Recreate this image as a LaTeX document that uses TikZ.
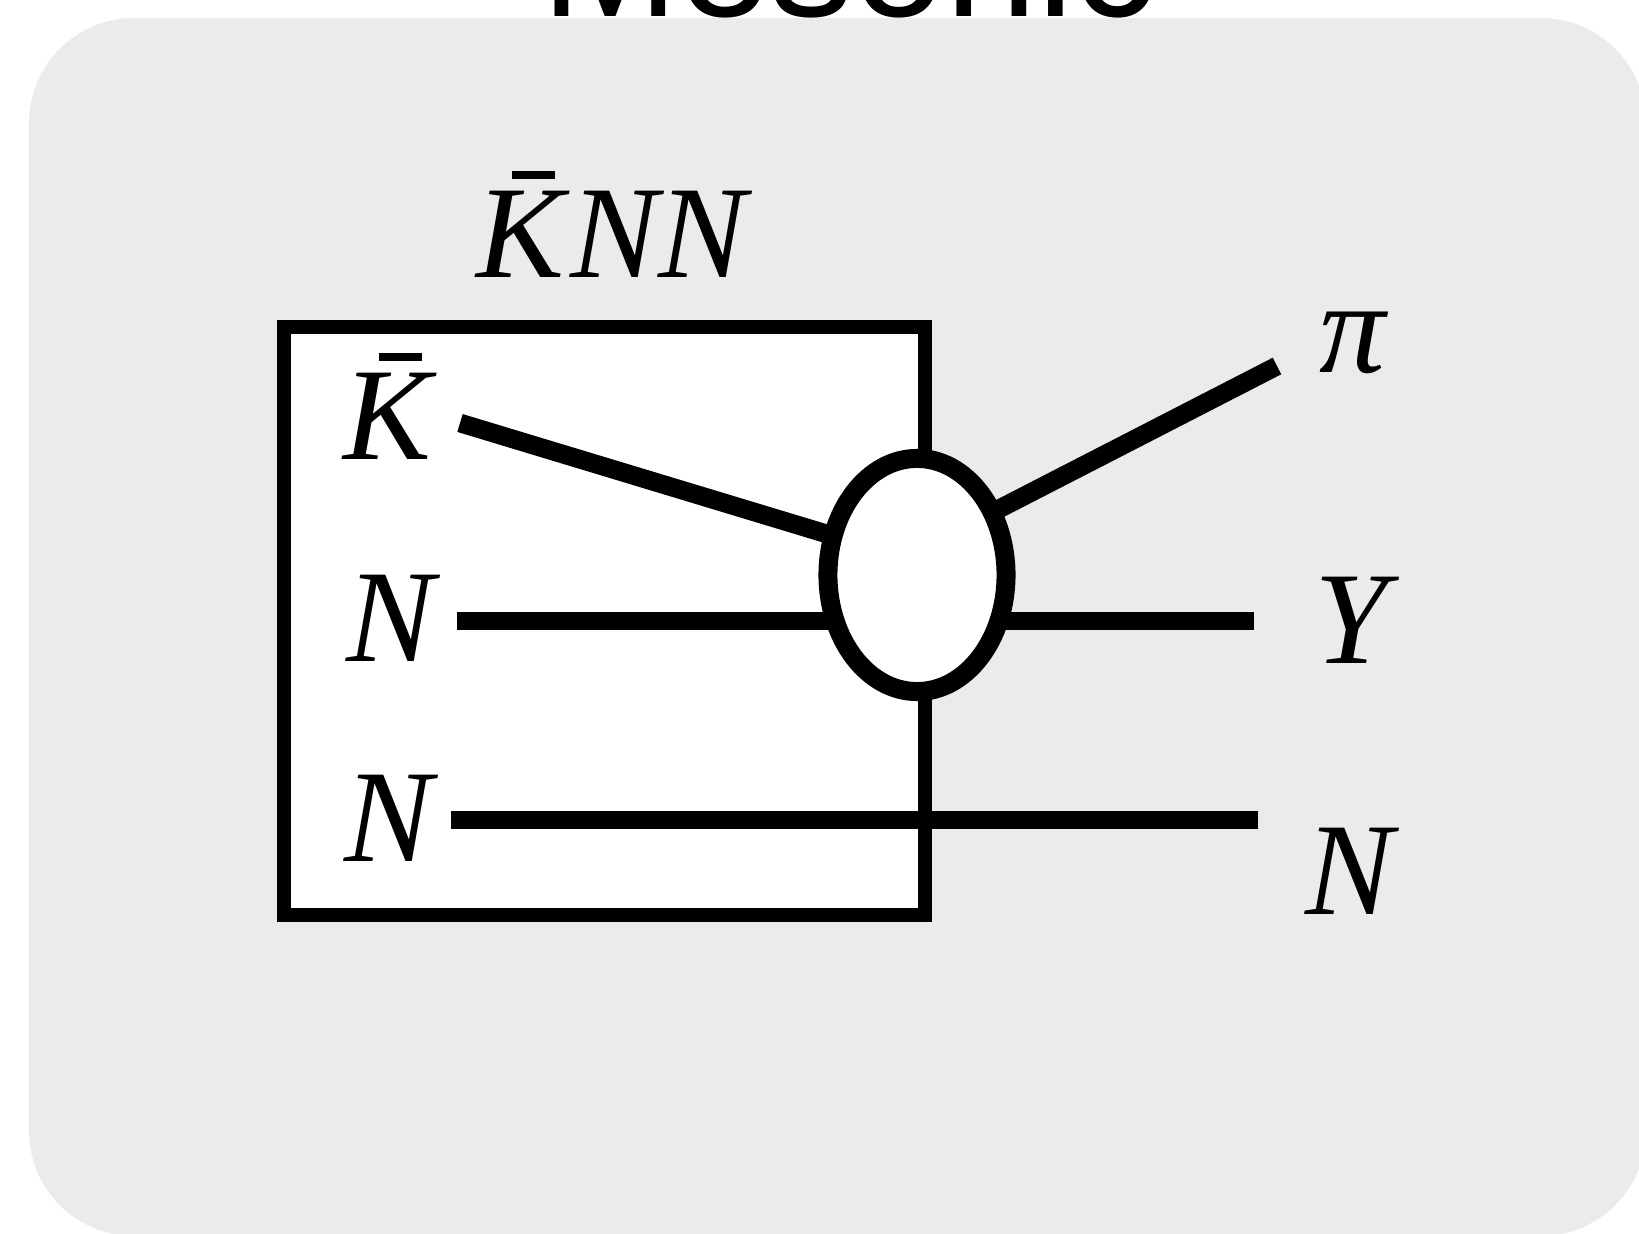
\documentclass[tikz,border=0pt]{standalone}
\usepackage{fontspec}
\setmainfont{Liberation Serif}
\newfontfamily\titlefont{Liberation Sans}
\usetikzlibrary{shapes.geometric}
\definecolor{panelgray}{RGB}{235,235,235}
\newcommand{\barK}{\makebox[0pt][l]{\hspace{0.27em}\rule[0.75em]{0.32em}{0.065em}}\textit{K}}

\begin{document}
\begin{tikzpicture}[
x=0.01cm, y=-0.01cm,
label/.style={inner sep=0pt, anchor=base west, font=\fontsize{37.5}{44}\selectfont},
leg/.style={line width=5.3pt},
frame/.style={draw, line width=4pt, fill=white},
blob/.style={ellipse, draw, fill=white, line width=5.4pt, inner sep=0pt,
  minimum width=1.78cm, minimum height=2.33cm}
]
\useasboundingbox (0,0) rectangle (1639,1234);
\fill[panelgray, rounded corners=1.05cm] (29,18) rectangle (1646,1236);
\node[inner sep=0pt, anchor=base, font=\titlefont\fontsize{47}{56}\selectfont] (title) at (849,17) {Mesonic};

\node[label] (knn) at (476,278) {\barK\textit{NN}};
\draw[frame] (284,327) rectangle (925,915);

\node[label] (kin) at (343,460) {\barK};
\node[label] (nin) at (346,662) {\textit{N}};
\node[label] (nspec) at (344,861) {\textit{N}};
\node[label] (piout) at (1319,373) {\textit{π}};
\node[label] (yout) at (1314,664) {\textit{Y}};
\node[label] (nout) at (1305,915) {\textit{N}};

\coordinate (kstart) at (460,423);
\coordinate (kend) at (870,547);
\coordinate (nstart) at (457,621);
\coordinate (yend) at (1254,621);
\coordinate (sstart) at (451,820);
\coordinate (send) at (1258,820);
\coordinate (piend) at (1277,366);
\coordinate (pistart) at (960,529);

\draw[leg] (kstart) -- (kend);
\draw[leg] (nstart) -- (yend);
\draw[leg] (sstart) -- (send);
\draw[leg] (pistart) -- (piend);

\node[blob] (vertex) at (917,575) {};

\end{tikzpicture}
\end{document}
